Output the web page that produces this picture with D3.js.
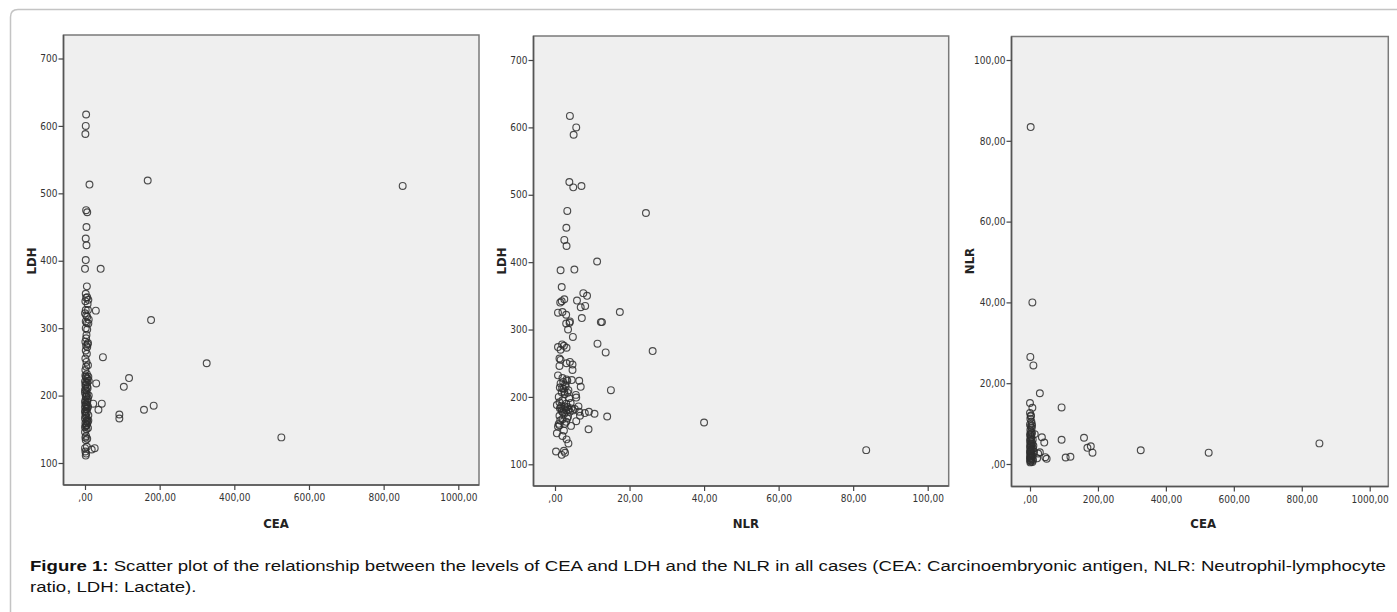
<!DOCTYPE html>
<html><head><meta charset="utf-8">
<script src="https://cdn.jsdelivr.net/npm/d3@7"></script>
<style>body{margin:0;background:#fff;} svg{display:block}</style>
</head><body><svg id="c" width="1397" height="612"></svg>
<script>
// ---- data ----
const ceaLdh = [
[3,617],[2,600],[1,588],[12,513],[168,519],[851,511],[3,475],[6,472],[4,450],[2,433],[4,423],[2,401],[0,388],[42,388],[5,362],[2,351],[6,346],[3,345],[1,340],[7,336],[2,327],[8,327],[29,326],[3,319],[6,317],[2,310],[5,308],[9,307],[177,312],[4,290],[1,280],[8,278],[3,274],[6,272],[2,267],[48,257],[4,250],[8,245],[1,238],[5,232],[2,228],[7,225],[118,226],[10,222],[3,220],[30,218],[1,215],[6,213],[104,213],[2,210],[4,207],[0,204],[5,201],[3,198],[8,196],[1,193],[6,190],[22,188],[45,188],[2,187],[4,185],[184,185],[0,183],[7,182],[3,180],[36,179],[158,179],[1,177],[5,175],[2,173],[92,172],[9,171],[4,168],[0,166],[92,166],[6,164],[3,162],[1,159],[5,157],[2,155],[8,152],[4,150],[326,248],[0,146],[3,140],[1,138],[2,134],[526,138],[0,122],[18,120],[26,122],[1,117],[3,114],[2,111],
[1,230],[4,226],[0,221],[6,219],[2,216],[7,211],[0,208],[4,203],[2,199],[6,194],[0,190],[3,186],[5,180],[1,170],[7,160],[4,156],[2,300],[6,298],[3,285],[5,262],[1,255],[3,243],
[9,342],[0,322],[10,313],[7,276],[9,228],[10,200],[8,184],[0,176],[9,163],[0,153],[5,124],[6,136]
];
const nlrLdh = [
[4.0,617],[5.7,600],[5.0,589],[3.85,519],[4.9,511],[7.1,513],[24.4,473],[3.3,476],[3.05,451],[2.5,433],[3.1,424],[11.3,401],[1.5,388],[5.2,389],[1.8,363],[7.6,354],[8.6,350],[1.4,340],[1.8,342],[2.5,345],[5.9,343],[6.9,333],[8.1,335],[0.8,325],[2.0,326],[3.0,322],[7.2,317],[17.4,326],[4.0,312],[3.0,309],[3.9,310],[12.3,311],[12.6,311],[3.5,300],[4.8,289],[11.4,279],[13.6,266],[26.2,268],[0.8,274],[1.9,278],[2.4,276],[3.1,273],[1.5,270],[1.2,257],[1.5,255],[1.2,246],[3.1,250],[4.7,248],[4.0,252],[4.7,240],[0.8,232],[2.0,228],[3.1,226],[2.2,222],[1.5,220],[2.7,218],[3.3,224],[4.5,225],[6.5,224],[6.9,215],[1.3,214],[2.3,212],[3.6,210],[1.8,207],[15.0,210],[5.6,203],[5.7,199],[2.6,204],[1.0,200],[3.8,198],[2.0,195],[1.2,192],[3.0,190],[4.2,191],[0.5,188],[1.7,187],[2.6,186],[3.4,185],[1.3,183],[2.3,182],[4.4,183],[5.3,182],[6.3,186],[3.0,180],[1.8,179],[4.0,178],[6.5,178],[9.1,178],[10.6,175],[8.0,176],[2.5,175],[1.2,172],[3.5,171],[14.0,171],[6.7,172],[5.7,164],[2.0,167],[3.0,163],[9.0,152],[40.0,162],[1.0,160],[4.3,157],[0.8,156],[1.2,158],[0.5,146],[2.4,150],[3.6,131],[3.1,137],[2.0,142],[83.5,121],[0.27,119],[1.8,114],[2.4,120],[2.7,117],
[2.9,216],[1.9,213],[2.5,208],[3.4,206],[1.6,184],[2.8,183],[3.7,181],[2.1,177],[4.8,180],[1.4,165],[2.6,160],[3.3,168]
];
const ceaNlr = [
[2,83.4],[7,40.0],[1,26.5],[10,24.4],[29,17.5],[0,15.1],[7,13.9],[93,14.0],[35,6.6],[42,5.3],[93,6.0],[159,6.5],[169,4.0],[179,4.4],[184,2.8],[326,3.4],[526,2.8],[852,5.1],[105,1.6],[119,1.8],[49,1.3],[45,1.7],[21,1.4],[29,2.9],[24,2.6],[14,7.4],
[0,12.6],[3,12.0],[1,11.2],[4,10.5],[0,9.8],[2,9.3],[5,8.9],[1,8.4],[3,8.0],[6,7.7],[0,7.3],[2,7.0],[4,6.6],[1,6.3],[3,6.0],[0,5.7],[5,5.4],[2,5.1],[1,4.8],[4,4.5],[0,4.2],[2,4.0],[6,3.7],[3,3.5],[1,3.2],[0,3.0],[4,2.8],[2,2.6],[1,2.4],[5,2.2],[3,2.0],[0,1.8],[2,1.6],[1,1.4],[4,1.2],[0,1.0],[3,0.8],[2,0.6],[1,0.4],[12,3.0],[10,4.5],[8,2.0],[6,9.5],[8,6.0],[9,1.0],[7,0.5],
[2,11.8],[5,10.0],[3,7.5],[7,5.0],[2,3.4],[5,1.5],[9,3.8]
];
const ldhTicks = [100,200,300,400,500,600,700];
const ceaTicks = [0,200,400,600,800,1000];
const nlrTicks = [0,20,40,60,80,100];
const captionBold = "Figure 1:";
const captionLine1 = " Scatter plot of the relationship between the levels of CEA and LDH and the NLR in all cases (CEA: Carcinoembryonic antigen, NLR: Neutrophil-lymphocyte";
const captionLine2 = "ratio, LDH: Lactate).";

const svg = d3.select("#c");
const commaFmt = v => (v === 0 ? "" : String(v)) + ",00";
const intFmt = v => String(v);
const NARROW = "'Liberation Sans Narrow','Arial Narrow','DejaVu Sans Condensed',sans-serif";

// card
svg.append("path")
  .attr("d", "M10.5,612 L10.5,17 Q10.5,9.5 18,9.5 L1397,9.5")
  .attr("fill", "none").attr("stroke", "#c4c4c4").attr("stroke-width", 1.5);

const panels = [
  {data: ceaLdh, fx0:63.5, fx1:479, fy0:35, fy1:485, xd:[0,1000], xr:[85,458.3], yd:[100,700], yr:[463,58.5], xt:ceaTicks, yt:ldhTicks, xf:commaFmt, yf:intFmt, xl:"CEA", yl:"LDH", ylx:32},
  {data: nlrLdh, fx0:533.5, fx1:948.7, fy0:36, fy1:486, xd:[0,100], xr:[555,927.7], yd:[100,700], yr:[464.3,60], xt:nlrTicks, yt:ldhTicks, xf:commaFmt, yf:intFmt, xl:"NLR", yl:"LDH", ylx:502},
  {data: ceaNlr, fx0:1011.5, fx1:1388.3, fy0:36.5, fy1:486.5, xd:[0,1000], xr:[1030,1369.7], yd:[0,100], yr:[464,60], xt:ceaTicks, yt:nlrTicks, xf:commaFmt, yf:commaFmt, xl:"CEA", yl:"NLR", ylx:970}
];

panels.forEach(p => {
  const x = d3.scaleLinear().domain(p.xd).range(p.xr);
  const y = d3.scaleLinear().domain(p.yd).range(p.yr);
  const g = svg.append("g");
  g.append("rect").attr("x", p.fx0).attr("y", p.fy0)
    .attr("width", p.fx1 - p.fx0).attr("height", p.fy1 - p.fy0)
    .attr("fill", "#efefef").attr("stroke", "#7a7a7a").attr("stroke-width", 1.5);
  g.append("line").attr("x1", p.fx0).attr("x2", p.fx0).attr("y1", p.fy0).attr("y2", p.fy1).attr("stroke", "#555").attr("stroke-width", 1.5);
  g.append("line").attr("x1", p.fx0).attr("x2", p.fx1).attr("y1", p.fy1).attr("y2", p.fy1).attr("stroke", "#555").attr("stroke-width", 1.5);

  const ya = g.append("g").attr("transform", `translate(${p.fx0},0)`)
    .call(d3.axisLeft(y).tickValues(p.yt).tickFormat(p.yf).tickSize(5).tickPadding(1));
  const xa = g.append("g").attr("transform", `translate(0,${p.fy1})`)
    .call(d3.axisBottom(x).tickValues(p.xt).tickFormat(p.xf).tickSize(5).tickPadding(4));
  [ya, xa].forEach(a => {
    a.select(".domain").remove();
    a.selectAll("line").attr("stroke", "#444").attr("stroke-width", 1.2);
    a.selectAll("text").attr("font-family", NARROW).attr("font-size", 10).attr("fill", "#333");
  });

  g.append("g").selectAll("circle").data(p.data).join("circle")
    .attr("cx", d => x(d[0])).attr("cy", d => y(d[1])).attr("r", 3.4)
    .attr("fill", "none").attr("stroke", "#2e2e2e").attr("stroke-width", 1.15).attr("stroke-opacity", 0.85);

  g.append("text").attr("x", (p.fx0 + p.fx1) / 2 + (p.xr[0] - p.fx0) / 2 - 6).attr("y", 528)
    .attr("text-anchor", "middle").attr("font-family", NARROW).attr("font-weight", "bold")
    .attr("font-size", 13).attr("fill", "#222").text(p.xl);
  g.append("text").attr("transform", `translate(${p.ylx + 4},261) rotate(-90)`)
    .attr("text-anchor", "middle").attr("font-family", NARROW).attr("font-weight", "bold")
    .attr("font-size", 13).attr("fill", "#222").text(p.yl);
});

// caption
const cap = svg.append("g");
const t1 = cap.append("text").attr("x", 0).attr("y", 571)
  .attr("font-family", "'Liberation Sans',Arial,sans-serif").attr("font-size", 14).attr("fill", "#111");
t1.append("tspan").attr("font-weight", "bold").text(captionBold);
t1.append("tspan").text(captionLine1);
const t2 = cap.append("text").attr("x", 0).attr("y", 592)
  .attr("font-family", "'Liberation Sans',Arial,sans-serif").attr("font-size", 14).attr("fill", "#111").text(captionLine2);
const w = t1.node().getComputedTextLength();
const sx = (1387 - 30) / w;
cap.attr("transform", `translate(30,0) scale(${sx},1)`);
</script></body></html>
